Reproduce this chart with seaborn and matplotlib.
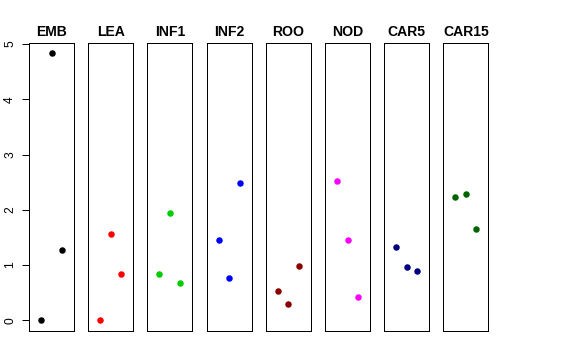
import matplotlib
matplotlib.use("Agg")
import matplotlib.pyplot as plt
import seaborn as sns
import pandas as pd

sns.set_style("white")
plt.rcParams['font.family'] = ['Liberation Sans', 'DejaVu Sans']
plt.rcParams['text.color'] = 'black'
plt.rcParams['axes.labelcolor'] = 'black'
plt.rcParams['ytick.color'] = 'black'
plt.rcParams['xtick.color'] = 'black'

tissues = ["EMB", "LEA", "INF1", "INF2", "ROO", "NOD", "CAR5", "CAR15"]
colors = ["#000000", "#FF0000", "#00CD00", "#0000FF", "#8B0000", "#FF00FF", "#000080", "#006400"]
replicate = [1, 2, 3]
values = {
    "EMB":   [0.00, 4.83, 1.27],
    "LEA":   [0.00, 1.56, 0.84],
    "INF1":  [0.84, 1.95, 0.68],
    "INF2":  [1.45, 0.77, 2.49],
    "ROO":   [0.54, 0.29, 0.98],
    "NOD":   [2.52, 1.45, 0.42],
    "CAR5":  [1.33, 0.96, 0.90],
    "CAR15": [2.23, 2.29, 1.65],
}
yticks = [0, 1, 2, 3, 4, 5]

W, H = 576, 360
fig = plt.figure(figsize=(W / 72, H / 72), dpi=72)

left0 = 29.0
step = 59.2
pw = 45.0
top = 43.0
bottom = 331.0

ymin = -0.193
ymax = 5.02

for i, (t, c) in enumerate(zip(tissues, colors)):
    x0 = left0 + i * step
    ax = fig.add_axes([x0 / W, (H - bottom) / H, pw / W, (bottom - top) / H])
    df = pd.DataFrame({"rep": replicate, "val": values[t]})
    sns.scatterplot(data=df, x="rep", y="val", ax=ax, color=c, s=42, linewidth=0, legend=False)
    ax.set_xlim(-0.16, 4.16)
    ax.set_ylim(ymin, ymax)
    ax.set_xlabel("")
    ax.set_ylabel("")
    ax.set_xticks([])
    for sp in ax.spines.values():
        sp.set_visible(True)
        sp.set_color("black")
        sp.set_linewidth(1.0)
    ax.set_title(t, fontsize=14, fontweight="bold", pad=7, color="black")
    if i == 0:
        ax.set_yticks(yticks)
        ax.set_yticklabels([str(v) for v in yticks], rotation=90, va="center", fontsize=12, color="black")
        ax.tick_params(axis="y", direction="out", length=7, width=1, pad=6, left=True, colors="black")
    else:
        ax.set_yticks([])

fig.savefig("out.png", dpi=72, facecolor="white")
